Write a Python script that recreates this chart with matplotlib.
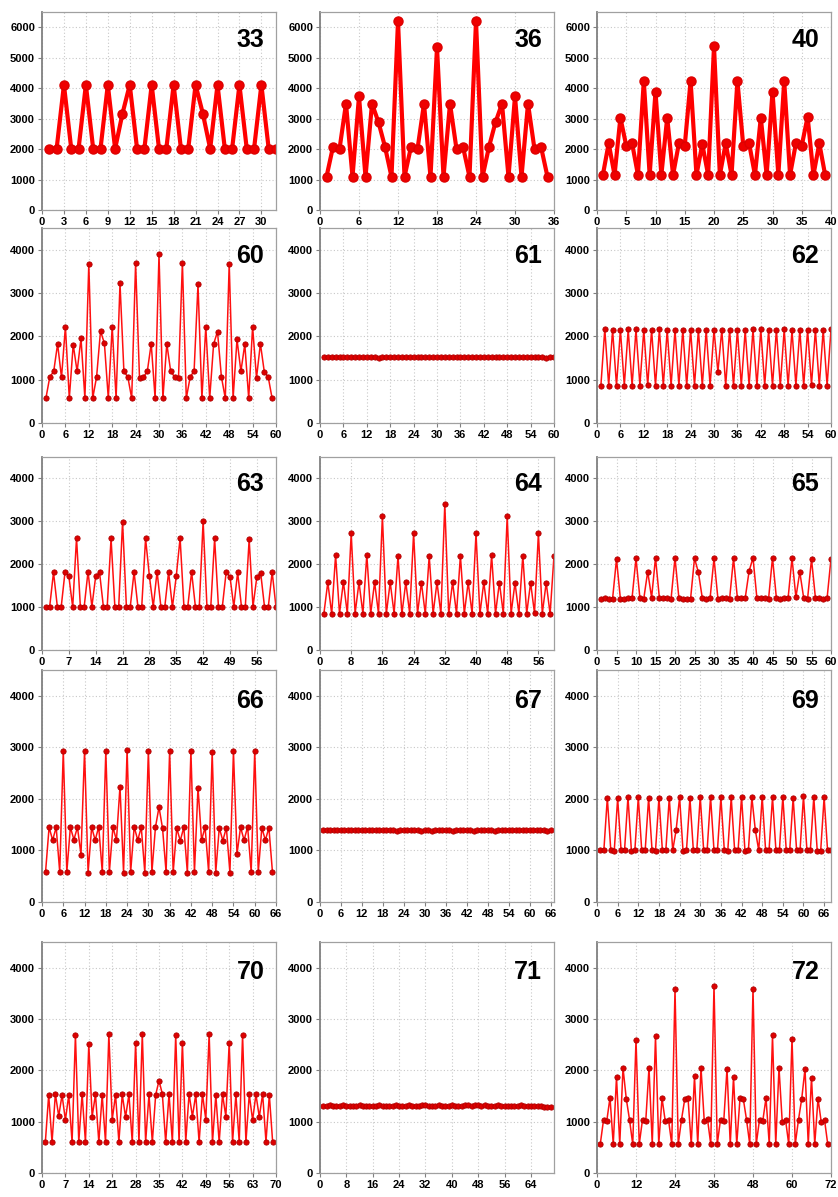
import matplotlib
matplotlib.use("Agg")
import matplotlib.pyplot as plt
from matplotlib.ticker import MultipleLocator

plt.rcParams['font.family'] = ['Liberation Sans', 'DejaVu Sans']

# ---- data (index = 1..n-1) ----
v33 = [2010, 2010, 4110, 2010, 2010, 4110, 2010, 2010, 4110, 2010, 3160, 4110,
       2010, 2010, 4110, 2010, 2010, 4110, 2010, 2010, 4110, 3160, 2010, 4110,
       2010, 2010, 4110, 2010, 2010, 4110, 2010, 2010]
v36 = [1090, 2075, 2000, 3490, 1090, 3730, 1090, 3490, 2880, 2075, 1090, 6200,
       1090, 2075, 2000, 3490, 1090, 5340, 1090, 3490, 2000, 2075, 1090, 6200,
       1090, 2075, 2880, 3490, 1090, 3730, 1090, 3490, 2000, 2075, 1090]
v40 = [1150, 2190, 1150, 3030, 2110, 2190, 1150, 4240, 1150, 3880, 1150, 3030,
       1150, 2190, 2110, 4240, 1150, 2160, 1150, 5370, 1150, 2190, 1150, 4240,
       2110, 2190, 1150, 3030, 1150, 3880, 1150, 4240, 1150, 2190, 2110, 3060,
       1150, 2190, 1150]
v60 = [570, 1065, 1190, 1825, 1050, 2220, 570, 1810, 1190, 1950, 570, 3670,
       570, 1065, 2120, 1840, 570, 2220, 570, 3220, 1190, 1065, 570, 3690,
       1040, 1060, 1190, 1830, 570, 3890, 570, 1830, 1190, 1065, 1040, 3700,
       570, 1065, 1200, 3200, 570, 2220, 570, 1820, 2110, 1065, 570, 3670,
       570, 1930, 1190, 1820, 570, 2220, 1040, 1830, 1180, 1065, 570]
v61 = [1530, 1525, 1520, 1530, 1525, 1520, 1515, 1525, 1520, 1530, 1520, 1515,
       1520, 1525, 1510, 1520, 1525, 1530, 1520, 1515, 1525, 1530, 1525, 1520,
       1530, 1525, 1520, 1515, 1525, 1530, 1520, 1525, 1530, 1520, 1525, 1530,
       1520, 1525, 1515, 1520, 1525, 1530, 1520, 1525, 1530, 1525, 1520, 1515,
       1525, 1530, 1520, 1525, 1530, 1520, 1515, 1525, 1530, 1510, 1515, 1520]
v62 = [865, 2170, 865, 2150, 860, 2150, 865, 2160, 860, 2160, 865, 2150,
       870, 2150, 860, 2160, 865, 2140, 860, 2150, 865, 2150, 860, 2150,
       865, 2150, 860, 2140, 865, 2150, 1180, 2150, 865, 2150, 860, 2140,
       860, 2140, 865, 2160, 855, 2160, 865, 2140, 865, 2150, 860, 2160,
       860, 2140, 865, 2150, 860, 2150, 880, 2150, 860, 2150, 865, 2160, 865]
v63 = [1000, 1010, 1810, 1010, 1000, 1820, 1720, 1000, 2610, 1010, 1010, 1830,
       1010, 1720, 1810, 1010, 1010, 2600, 1000, 1010, 2990, 1010, 1000, 1820,
       1010, 1010, 2600, 1720, 1010, 1830, 1000, 1000, 1820, 1000, 1720, 2610,
       1010, 1010, 1820, 1000, 1010, 3000, 1010, 1010, 2600, 1000, 1000, 1810,
       1710, 1010, 1810, 1010, 1010, 2580, 1010, 1700, 1800, 1010, 1010, 1820,
       1000, 1010]
v64 = [850, 1580, 840, 2210, 850, 1590, 850, 2720, 850, 1580, 850, 2220,
       850, 1580, 850, 3120, 840, 1580, 850, 2190, 840, 1580, 850, 2720,
       850, 1570, 840, 2190, 850, 1580, 840, 3400, 840, 1580, 850, 2200,
       850, 1580, 850, 2720, 840, 1580, 850, 2210, 850, 1570, 850, 3120,
       850, 1570, 850, 2200, 850, 1570, 860, 2720, 850, 1570, 840, 2200,
       850, 1580, 850]
v65 = [1190, 1210, 1190, 1200, 2120, 1190, 1190, 1220, 1220, 2140, 1210, 1200,
       1830, 1220, 2150, 1210, 1210, 1220, 1200, 2150, 1210, 1190, 1200, 1200,
       2140, 1810, 1210, 1200, 1210, 2140, 1200, 1220, 1210, 1190, 2140, 1210,
       1220, 1210, 1840, 2150, 1210, 1220, 1210, 1200, 2150, 1210, 1200, 1220,
       1210, 2140, 1230, 1820, 1210, 1200, 2120, 1220, 1210, 1200, 1210, 2130,
       1210, 1200, 1210, 1200]
v66 = [580, 1450, 1200, 1450, 580, 2930, 580, 1450, 1210, 1450, 920, 2930,
       570, 1450, 1200, 1460, 580, 2930, 580, 1450, 1200, 2240, 570, 2950,
       580, 1460, 1200, 1450, 570, 2930, 580, 1450, 1840, 1430, 580, 2930,
       580, 1430, 1190, 1450, 570, 2920, 580, 2220, 1200, 1450, 580, 2900,
       570, 1440, 1190, 1440, 570, 2920, 930, 1450, 1200, 1460, 580, 2930,
       580, 1440, 1200, 1440, 580]
v67 = [1400, 1395, 1405, 1390, 1400, 1395, 1390, 1400, 1405, 1395, 1390, 1400,
       1395, 1390, 1400, 1395, 1405, 1390, 1395, 1400, 1390, 1385, 1395, 1400,
       1390, 1395, 1400, 1390, 1385, 1395, 1390, 1380, 1395, 1390, 1400, 1395,
       1390, 1385, 1395, 1400, 1390, 1395, 1390, 1385, 1395, 1390, 1400, 1395,
       1390, 1385, 1395, 1390, 1400, 1395, 1390, 1395, 1400, 1390, 1395, 1400,
       1390, 1395, 1400, 1390, 1385, 1390]
v69 = [1000, 1010, 2020, 1010, 980, 2010, 1000, 1000, 2040, 990, 1000, 2030,
       1000, 1000, 2020, 1000, 990, 2020, 1000, 1000, 2020, 1000, 1400, 2030,
       990, 1000, 2020, 1000, 1000, 2040, 1000, 1000, 2040, 1000, 1000, 2030,
       1000, 990, 2030, 1000, 1000, 2040, 990, 1010, 2030, 1400, 1000, 2040,
       1000, 1010, 2030, 1000, 1000, 2040, 1000, 1000, 2020, 1010, 1000, 2050,
       1010, 1010, 2040, 990, 990, 2030, 1000, 1000]
v70 = [600, 1520, 600, 1540, 1110, 1520, 1030, 1520, 600, 2690, 600, 1540,
       600, 2510, 1100, 1530, 600, 1520, 600, 2710, 1040, 1520, 610, 1530,
       1090, 1530, 600, 2540, 600, 2710, 600, 1530, 600, 1520, 1800, 1540,
       600, 1540, 600, 2690, 600, 2540, 610, 1540, 1100, 1530, 600, 1540,
       1040, 2710, 600, 1520, 600, 1530, 1100, 2540, 600, 1530, 600, 2690,
       600, 1530, 1030, 1530, 1090, 1540, 610, 1520, 600]
v71 = [1310, 1305, 1315, 1310, 1300, 1310, 1315, 1305, 1310, 1300, 1310, 1315,
       1305, 1310, 1300, 1305, 1310, 1315, 1310, 1305, 1300, 1310, 1315, 1310,
       1305, 1310, 1320, 1310, 1305, 1310, 1315, 1320, 1310, 1305, 1310, 1315,
       1310, 1300, 1310, 1315, 1310, 1305, 1310, 1320, 1315, 1310, 1325, 1320,
       1310, 1315, 1310, 1305, 1310, 1315, 1310, 1305, 1310, 1300, 1305, 1310,
       1315, 1310, 1305, 1300, 1310, 1305, 1300, 1295, 1290, 1295]
v72 = [560, 1030, 1010, 1470, 560, 1870, 560, 2050, 1450, 1040, 560, 2600,
       560, 1040, 1010, 2050, 560, 2660, 560, 1460, 1010, 1040, 560, 3580,
       560, 1040, 1440, 1460, 560, 1880, 560, 2050, 1010, 1050, 560, 3650,
       560, 1040, 1010, 2030, 560, 1870, 560, 1460, 1450, 1040, 560, 3590,
       560, 1040, 1010, 1460, 560, 2680, 560, 2050, 990, 1040, 560, 2620,
       560, 1040, 1450, 2030, 560, 1860, 560, 1450, 990, 1040, 560]

labels = ["33", "36", "40", "60", "61", "62", "63", "64", "65",
          "66", "67", "69", "70", "71", "72"]
series = [v33, v36, v40, v60, v61, v62, v63, v64, v65,
          v66, v67, v69, v70, v71, v72]
xmax = [32, 36, 40, 60, 60, 60, 61, 60, 60, 66, 67, 68, 70, 71, 72]
xstep = [3, 6, 5, 6, 6, 6, 7, 8, 5, 6, 6, 6, 7, 8, 12]

# ---- layout in pixels ----
W, H = 838, 1197
col_x = [(42, 276), (320, 554), (597, 831)]
row_y = [(12, 210), (228, 423), (457, 650), (670, 902), (942, 1173)]

fig = plt.figure(figsize=(W / 100, H / 100), dpi=100)

for i, (lab, vals) in enumerate(zip(labels, series)):
    r, c = divmod(i, 3)
    x0, x1 = col_x[c]
    top, bot = row_y[r]
    ax = fig.add_axes([x0 / W, 1 - bot / H, (x1 - x0) / W, (bot - top) / H])
    xs = list(range(1, len(vals) + 1))
    if r == 0:
        ax.plot(xs, vals, color="#ff0000", lw=3, marker="o", ms=6.5,
                mfc="#ee0000", mec="#dd0000")
        ax.set_ylim(0, 6500)
    else:
        ax.plot(xs, vals, color="#ff1010", lw=1.1, marker="o", ms=3.8,
                mfc="#dd0000", mec="#b00000", mew=0.6)
        ax.set_ylim(0, 4500)
    ax.set_xlim(0, xmax[i])
    ax.xaxis.set_major_locator(MultipleLocator(xstep[i]))
    ax.yaxis.set_major_locator(MultipleLocator(1000))
    ax.grid(True, color="#c8c8c8", ls=(0, (1, 2)), lw=0.8)
    ax.set_axisbelow(True)
    for s in ax.spines.values():
        s.set_color("#a0a0a0")
        s.set_linewidth(0.9)
    ax.spines["left"].set_color("#808080")
    ax.spines["left"].set_linewidth(1.3)
    ax.tick_params(axis="both", labelsize=8, length=3, width=0.8,
                   color="#808080", pad=2)
    for t in ax.get_xticklabels() + ax.get_yticklabels():
        t.set_fontweight("bold")
    ax.text(0.95, 0.92, lab, transform=ax.transAxes, ha="right", va="top",
            fontsize=18, fontweight="bold")

fig.savefig("out.png", dpi=100)
